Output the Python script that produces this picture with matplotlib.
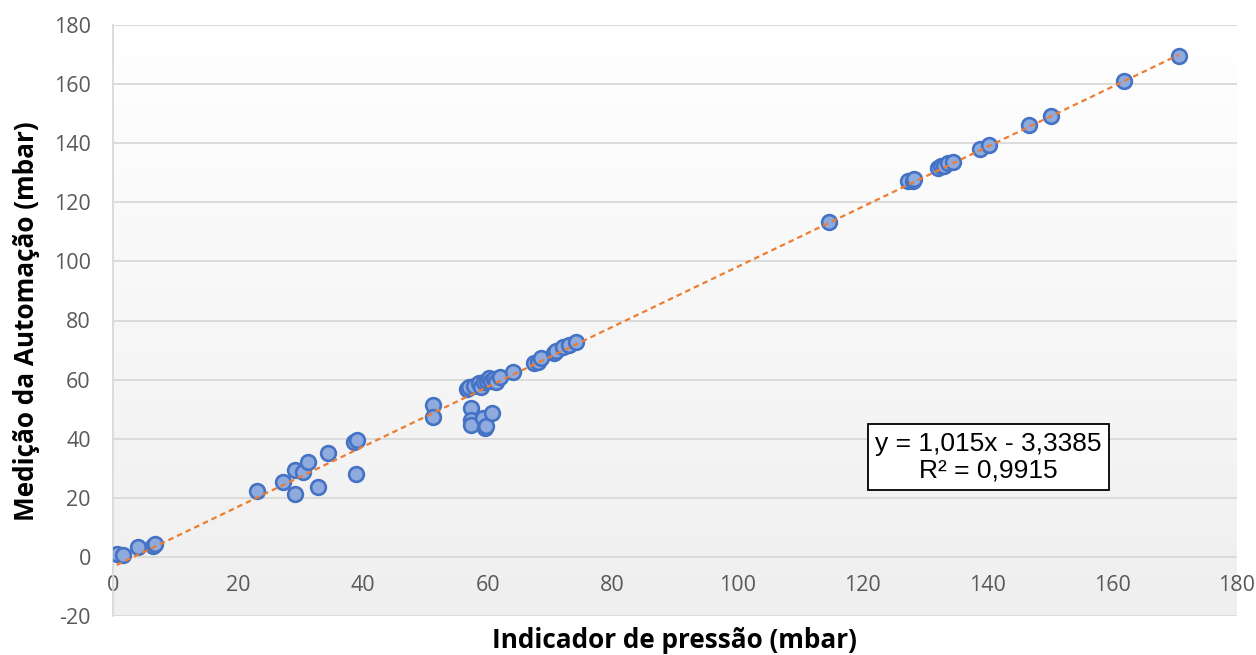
import numpy as np
import matplotlib
matplotlib.use("Agg")
import matplotlib.pyplot as plt
from matplotlib.colors import LinearSegmentedColormap

plt.rcParams["axes.unicode_minus"] = False

# pressure readings: indicator (x) vs automation (y), mbar
indicador = [0.6, 1.6, 4.0, 6.4, 6.7,
             23.1, 27.2, 29.1, 29.1, 30.4, 31.2, 32.8, 34.4, 38.6, 39.1, 38.9,
             51.2, 51.2,
             56.7, 57.0, 57.8, 58.6, 58.9, 59.4, 59.9, 60.2, 60.5, 61.0, 61.3, 62.0,
             64.1, 67.4, 68.0, 68.6, 70.6, 70.9, 72.1, 73.0, 74.2,
             57.3, 57.3, 57.3, 59.3, 59.6, 59.7, 60.7,
             114.6, 127.3, 128.1, 128.3, 132.1, 132.6, 133.1, 133.7, 134.5,
             138.9, 140.3, 146.7, 150.2, 161.9, 170.7]
automacao = [1.0, 0.7, 3.3, 3.7, 4.4,
             22.3, 25.4, 21.3, 29.4, 28.6, 32.1, 23.7, 35.2, 38.9, 39.4, 28.1,
             51.4, 47.4,
             56.8, 57.5, 57.8, 58.9, 57.5, 59.2, 59.5, 60.6, 59.5, 60.2, 59.2, 60.9,
             62.6, 65.6, 65.9, 67.3, 69.0, 69.6, 71.0, 71.7, 72.7,
             50.4, 46.3, 44.7, 47.0, 43.6, 44.3, 48.7,
             113.2, 127.2, 127.2, 127.9, 131.6, 132.3, 132.3, 133.3, 133.6,
             138.0, 139.4, 146.1, 149.2, 161.0, 169.5]

SLOPE = 1.015
INTERCEPT = -3.3385
R2 = 0.9915

fig = plt.figure(figsize=(12.56, 6.55), dpi=100)
ax = fig.add_axes([113/1256, 1-616/655, (1237-113)/1256, (616-25)/655])

# vertical gradient background of the plot area
cmap = LinearSegmentedColormap.from_list("bg", ["#efefef", "#ffffff"])
grad = np.linspace(0, 1, 256).reshape(-1, 1)
ax.imshow(grad, extent=[0, 1, 0, 1], transform=ax.transAxes, aspect="auto",
          cmap=cmap, origin="lower", zorder=0)

ax.plot(indicador, automacao, "o", ms=10.6, mfc="#8faadc", mec="#4472c4",
        mew=1.9, zorder=3)

xs = np.array([min(indicador), max(indicador)])
ax.plot(xs, SLOPE*xs + INTERCEPT, color="#ed7d31", lw=1.6, ls=(0, (2.5, 1.8)),
        zorder=4)

ax.set_xlim(0, 180)
ax.set_ylim(-20, 180)
ax.set_xticks(range(0, 181, 20))
ax.set_yticks(range(-20, 181, 20))
ax.grid(axis="y", color="#d9d9d9", lw=1.3)
ax.set_axisbelow(True)

for s in ["top", "right"]:
    ax.spines[s].set_visible(False)
ax.spines["bottom"].set_position(("data", 0))
ax.spines["bottom"].set_visible(False)
ax.spines["left"].set_color("#d9d9d9")
ax.spines["left"].set_linewidth(1.3)

ax.tick_params(axis="both", length=0, labelsize=15.5, labelcolor="#595959")
ax.tick_params(axis="x", pad=13)
ax.tick_params(axis="y", pad=16)
for lab in ax.get_xticklabels() + ax.get_yticklabels():
    lab.set_fontfamily("Open Sans")

ax.text(140.2, 33.8, "y = 1,015x - 3,3385\nR² = {:.4f}".format(R2).replace(".", ","),
        ha="center", va="center", multialignment="center", fontsize=19,
        family="Liberation Sans", linespacing=1.12,
        bbox=dict(boxstyle="square,pad=0.28", fc="white", ec="black", lw=1.3),
        zorder=5)

fig.text(674/1256, 1-640/655, "Indicador de pressão (mbar)", ha="center", va="center",
         fontsize=18.8, fontweight="bold", family="Open Sans")
fig.text(27/1256, 1-321/655, "Medição da Automação (mbar)", ha="center", va="center",
         rotation=90, fontsize=18.8, fontweight="bold", family="Open Sans")

fig.savefig("out.png", dpi=100)
